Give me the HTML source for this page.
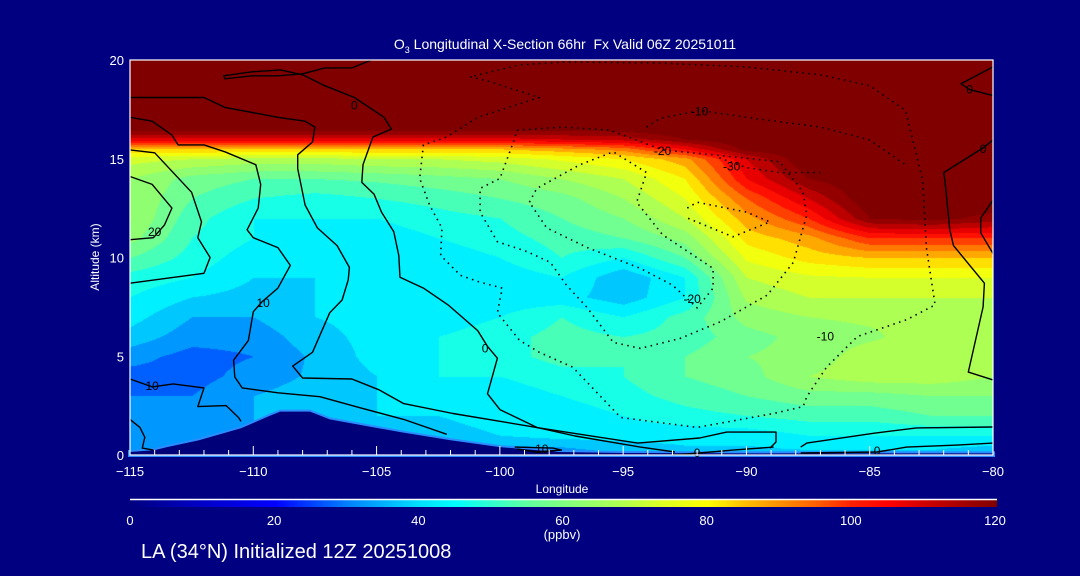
<!DOCTYPE html>
<html><head><meta charset="utf-8">
<style>
html,body{margin:0;padding:0;background:#000080;}
#wrap{position:relative;width:1080px;height:576px;background:#000080;overflow:hidden;font-family:"Liberation Sans",sans-serif;color:#fff;}
canvas{position:absolute;}
svg{position:absolute;left:0;top:0;}
.t{position:absolute;white-space:nowrap;color:#fff;}
</style></head>
<body>
<div id="wrap">
<canvas id="field" width="863" height="395" style="left:130px;top:60px"></canvas>
<canvas id="cbar" width="867" height="7" style="left:130px;top:500px"></canvas>
<svg id="ov" width="1080" height="576"></svg>
<div class="t" style="left:0;width:1130px;text-align:center;top:36px;font-size:14px;">O<sub style="font-size:9px">3</sub> Longitudinal X-Section 66hr&nbsp; Fx Valid 06Z 20251011</div>
<div class="t" style="left:45px;top:250px;font-size:12px;transform:rotate(-90deg);width:100px;text-align:center;">Altitude (km)</div>
<div class="t" style="left:512px;width:100px;text-align:center;top:482px;font-size:12px;">Longitude</div>
<div class="t" style="left:512px;width:100px;text-align:center;top:527px;font-size:13px;">(ppbv)</div>
<div class="t" style="left:141px;top:541px;font-size:20px;">LA (34°N) Initialized 12Z 20251008</div>
</div>
<script>
const lons = [-115,-112.5,-110,-107.5,-105,-102.5,-100,-97.5,-95,-92.5,-90,-87.5,-85,-82.5,-80];
const alts = [0,1,2,3,4,5,6,7,8,9,10,11,12,13,14,15,15.5,16,16.5,17,20];
const o3r0  = [30,30,30,30,30,30,30,30,35,38,38,38,38,38,35];
const o3r1  = [35,35,35,35,36,38,40,42,42,42,42,45,45,45,45];
const o3r2  = [32,33,35,38,40,40,42,42,45,48,50,52,52,55,55];
const o3r3  = [30,30,35,38,40,42,42,45,48,52,55,58,58,60,60];
const o3r4  = [28,28,32,36,40,45,45,48,50,55,58,65,68,68,65];
const o3r5  = [32,28,30,36,42,45,48,52,50,55,60,62,68,68,68];
const o3r6  = [38,32,32,38,42,45,48,52,50,52,58,62,64,68,68];
const o3r7  = [42,35,35,40,42,42,45,50,45,52,62,65,66,66,66];
const o3r8  = [45,40,38,40,40,42,42,42,37,45,66,70,70,70,70];
const o3r9  = [48,45,40,40,40,42,42,45,36,45,70,74,75,75,75];
const o3r10 = [55,48,42,40,40,42,45,50,45,55,76,82,85,85,85];
const o3r11 = [62,50,45,42,42,45,48,52,55,62,82,88,100,100,100];
const o3r12 = [65,52,45,45,45,48,50,55,60,70,88,100,120,122,118];
const o3r13 = [65,55,50,48,50,52,55,58,65,75,95,110,125,125,125];
const o3r14 = [65,58,55,55,56,58,60,65,70,80,105,120,125,125,125];
const o3r15 = [72,70,68,68,70,70,72,76,80,88,110,125,125,125,125];
const o3r155= [85,85,85,85,85,85,85,88,92,105,122,125,125,125,125];
const o3r16 = [108,108,108,108,108,108,108,110,112,120,125,125,125,125,125];
const o3r165= [122,122,122,122,122,122,122,122,122,125,125,125,125,125,125];
const o3r17 = [125,125,125,125,125,125,125,125,125,125,125,125,125,125,125];
const o3r20 = [125,125,125,125,125,125,125,125,125,125,125,125,125,125,125];
const o3rows = [o3r0,o3r1,o3r2,o3r3,o3r4,o3r5,o3r6,o3r7,o3r8,o3r9,o3r10,o3r11,o3r12,o3r13,o3r14,o3r15,o3r155,o3r16,o3r165,o3r17,o3r20];

const terrainLon = [-115,-114,-113.5,-112.2,-110.5,-109.3,-108.9,-107.7,-106.9,-104,-102,-100,-97.6,-95,-90,-85,-80];
const terrainAlt = [0.15,0.25,0.4,0.75,1.35,2.0,2.2,2.2,1.8,1.15,0.75,0.4,0.15,0.1,0.08,0.08,0.08];

const xTicks = [-115,-110,-105,-100,-95,-90,-85,-80];
const yTicks = [0,5,10,15,20];
const cbTicks = [0,20,40,60,80,100,120];

const solidContours = [
 [[-115,18.1],[-112,18.1],[-111.15,17.6],[-109,17.1],[-107.9,16.9],[-107.5,16.6],[-107.6,15.85],[-108.2,15.2],[-108.2,14.5],[-107.9,12.66],[-107.4,11.5],[-106.6,10.6],[-106.1,9.5],[-106.15,8.86],[-106.4,7.85],[-106.9,7.2],[-107.6,5.2],[-108.4,4.5],[-108,3.9],[-106,3.85],[-104.9,3.3],[-103.9,2.6],[-101.9,2.1],[-98.4,1.37],[-97,1.1],[-94.4,0.6],[-91.9,0.86],[-90.8,1.16],[-88.8,1.16],[-88.8,0.66],[-89.05,0.35]],
 [[-105.2,20],[-106,19.6],[-107.1,19.6],[-108,19.3],[-109,19.2],[-110.05,19.2],[-111.15,19.05],[-111.2,19.2],[-110.1,19.4],[-108.9,19.5],[-108,19.25],[-107.1,18.7],[-105.9,18.1],[-104.7,17.1],[-104.4,16.5],[-105.15,16.1],[-105.55,14.7],[-105.6,13.8],[-105.1,13.2],[-104.8,12.3],[-104.3,11.3],[-104.1,10.1],[-104.05,9],[-103.1,8.45],[-102.1,7.6],[-100.9,6.3],[-100.5,5.5],[-100.1,4.9],[-100.5,3.1],[-100,2.3],[-98.5,1.4],[-96.95,0.96],[-94.3,0.4],[-92.9,0.15]],
 [[-115,15.45],[-114,15.3],[-112.5,13.3],[-112.1,11.8],[-112.25,11],[-111.75,10],[-112,9.2],[-115,8.7]],
 [[-115,14.1],[-114.1,13.7],[-113.3,12.5],[-113.6,11.65],[-114.05,11],[-115,10.9]],
 [[-115,17.1],[-114.1,16.9],[-113.3,16.2],[-113.05,15.7],[-112,15.7],[-111.15,15.35],[-109.9,14.7],[-109.7,13.7],[-109.8,12.5],[-110.25,11.4],[-110,11],[-109,10.5],[-108.5,9.6],[-109,8.45],[-109.65,7.75],[-110,7.25],[-110.2,5.8],[-110.8,4.8],[-110.75,3.95],[-110.45,3.4],[-109,3.15],[-107.3,2.95],[-105.7,2.4],[-103.9,1.8],[-102.15,1.05]],
 [[-115,3.85],[-114.1,3.45],[-113.25,3.6],[-112,3.4],[-112.25,2.45],[-111.1,2.5],[-110.6,1.9],[-110.5,1.7]],
 [[-115,1.8],[-114.6,1.4],[-114.4,0.9],[-114.5,0.35],[-114.05,0.25]],
 [[-80,19.65],[-81.3,18.8],[-80.95,18.5],[-80,18.2]],
 [[-80,15.95],[-80.4,15.55],[-82,14.3],[-81.95,13.9],[-81.75,11.4],[-81.6,10.6],[-80.35,8.7],[-80.4,7.5],[-81,4.2],[-80,3.8]],
 [[-80,12.9],[-80.5,12],[-80.5,11.25],[-80,10.2]],
 [[-87.8,0.4],[-87.55,0.6],[-84.85,1.1],[-83.1,1.37],[-80,1.42]],
 [[-87.8,0.1],[-84.7,0.15],[-83.5,0.4],[-81.45,0.5],[-80,0.6]],
 [[-93,0.0],[-91.9,0.1],[-90.55,0.25],[-88.9,0.4]],
 [[-99.4,0.4],[-97.85,0.35],[-97.5,0.25],[-98.5,0.15],[-99.3,0.3]]
];
const dottedContours = [
 [[-101.2,19.15],[-100.4,18.9],[-98.4,18.1],[-100.9,17.1],[-102.15,16.1],[-103.1,15.7],[-103.25,14],[-102.85,12.65],[-102.35,11.5],[-102.4,10.1],[-101.6,9.1],[-100.8,8.75],[-99.9,8.45],[-100.1,7.2],[-99.2,5.8],[-98.4,5.2],[-97.05,4.45],[-95.1,1.9],[-92,1.4],[-88.9,2.1],[-87.7,2.45],[-87.55,2.95],[-86.75,4.45],[-85.5,6],[-83.5,6.85],[-82.35,7.6],[-82.7,10.5],[-82.85,13.9],[-83.55,17.45],[-85,18.7],[-87,19.25],[-90,19.65],[-93.6,19.85],[-97.3,19.9],[-99.2,19.75],[-101.2,19.15]],
 [[-99.3,16.45],[-97.45,16.6],[-95.55,16.45],[-93.4,15.45],[-91.35,15.2],[-88.65,14.85],[-87.7,13.3],[-87.55,12.15],[-88.1,9.75],[-89.15,8.1],[-91.05,6.75],[-92.7,5.9],[-94.3,5.4],[-95.4,5.7],[-96.45,7.45],[-97.3,8.6],[-97.95,9.75],[-98.9,10.3],[-100.1,10.8],[-100.8,12.3],[-100.8,13.5],[-100,14],[-99.45,15.85],[-99.3,16.45]],
 [[-98.8,12.8],[-98.5,13.5],[-96.75,14.7],[-95.4,15.35],[-94.05,14.3],[-94.45,12.8],[-93.4,11.15],[-91.35,9.45],[-91.35,8.45],[-92,7.45],[-93,8.6],[-94.3,9.45],[-96.45,10.5],[-98.1,11.5],[-98.8,12.8]],
 [[-92.4,12.5],[-92,12.8],[-90,12.3],[-89.05,11.8],[-90.55,11.05],[-92.4,12]],
 [[-94.05,16.6],[-93.5,17.05],[-91.9,17.45],[-90,17.1],[-87,16.6],[-85,15.95],[-83.55,14.7]],
 [[-91.1,15.05],[-90,14.55],[-88.65,14.3],[-87,14.3]]
];
const labelText = ["0","0","20","10","10","-10","-20","-30","-20","-10","0","0","10","0","0"];
const labelLon = [-105.9,-100.6,-114,-109.6,-114.1,-91.9,-93.4,-90.6,-92.2,-86.8,-80.95,-80.4,-98.3,-92.0,-84.7];
const labelAlt = [17.7,5.4,11.3,7.7,3.5,17.4,15.4,14.6,7.9,6.0,18.5,15.5,0.3,0.1,0.2];

const X0=130, X1=993, Y0=455, Y1=60;
function xs(lon){return X0+(lon+115)/35*(X1-X0);}
function ys(a){return Y0-a/20*(Y0-Y1);}

const stops=[[0,[0,0,128]],[10,[0,0,200]],[20,[0,0,255]],[30,[0,128,255]],[35,[0,176,255]],[40,[0,224,255]],[45,[0,255,255]],[50,[48,255,208]],[55,[96,255,160]],[60,[128,255,128]],[68,[176,255,80]],[74,[224,255,32]],[80,[255,255,0]],[85,[255,192,0]],[90,[255,144,0]],[95,[255,96,0]],[100,[255,32,0]],[105,[255,0,0]],[110,[208,0,0]],[120,[128,0,0]]];
function cmap(v){
 if(v<=0)return stops[0][1]; if(v>=120)return stops[stops.length-1][1];
 for(let i=1;i<stops.length;i++){ if(v<=stops[i][0]){const a=stops[i-1],b=stops[i];const t=(v-a[0])/(b[0]-a[0]);return [0,1,2].map(k=>Math.round(a[1][k]+(b[1][k]-a[1][k])*t));}}
}
function sample(lon,a){
 let i=Math.min(lons.length-2,Math.max(0,Math.floor((lon-lons[0])/(lons[1]-lons[0]))));
 let tx=(lon-lons[i])/(lons[i+1]-lons[i]); tx=Math.max(0,Math.min(1,tx));
 let j=0; while(j<alts.length-2 && a>alts[j+1]) j++;
 let ty=(a-alts[j])/(alts[j+1]-alts[j]); ty=Math.max(0,Math.min(1,ty));
 const r0=o3rows[j],r1=o3rows[j+1];
 const v0=r0[i]*(1-tx)+r0[i+1]*tx, v1=r1[i]*(1-tx)+r1[i+1]*tx;
 return v0*(1-ty)+v1*ty;
}
(function(){
 const c=document.getElementById('field'),g=c.getContext('2d');
 const W=c.width,H=c.height,img=g.createImageData(W,H);
 for(let py=0;py<H;py++){const a=(Y0-(Y1+py))/(Y0-Y1)*20;
  for(let px=0;px<W;px++){const lon=-115+(px)/(X1-X0)*35;
   let v=sample(lon,a); v=Math.min(120,Math.floor(v/5)*5+2.5);
   const col=cmap(v),k=(py*W+px)*4;img.data[k]=col[0];img.data[k+1]=col[1];img.data[k+2]=col[2];img.data[k+3]=255;}}
 g.putImageData(img,0,0);
 const cb=document.getElementById('cbar'),cg=cb.getContext('2d');
 for(let px=0;px<cb.width;px++){const col=cmap(px/(cb.width-1)*120);cg.fillStyle='rgb('+col.join(',')+')';cg.fillRect(px,0,1,7);}
})();
const NS='http://www.w3.org/2000/svg';
const svg=document.getElementById('ov');
function mk(tag,attrs){const e=document.createElementNS(NS,tag);for(const k in attrs)e.setAttribute(k,attrs[k]);svg.appendChild(e);return e;}
let tp='M'+xs(-115)+','+ys(0);
terrainLon.forEach((l,i)=>{tp+=' L'+xs(l).toFixed(1)+','+ys(terrainAlt[i]).toFixed(1);});
tp+=' L'+xs(-80)+','+ys(0)+' Z';
const tf=mk('path',{d:tp,fill:'#000078',stroke:'#2a8cff','stroke-width':4});


const tf2=mk('path',{d:tp,fill:'#000078',stroke:'none'});


function lineFor(pts,dotted,name){
 const d=pts.map((p,i)=>(i?'L':'M')+xs(p[0]).toFixed(1)+','+ys(p[1]).toFixed(1)).join(' ');
 const a={d:d,fill:'none',stroke:'#000','stroke-width':dotted?1.6:1.4,'stroke-linejoin':'round'};
 if(dotted){a['stroke-dasharray']='1.5 4.5';}
 const e=mk('path',a);
 
 
}
solidContours.forEach((c,i)=>lineFor(c,false,'contour-solid-'+i));
dottedContours.forEach((c,i)=>lineFor(c,true,'contour-dotted-'+i));
labelText.forEach((t,i)=>{
 const e=mk('text',{x:xs(labelLon[i]),y:ys(labelAlt[i])+4,'font-size':12,'text-anchor':'middle',fill:'#000','font-family':'Liberation Sans, sans-serif'});
 e.textContent=t;
 
 
});
const fr=mk('rect',{x:X0,y:Y1,width:X1-X0,height:Y0-Y1,fill:'none',stroke:'#fff','stroke-width':1.2});


for(let l=-115;l<=-80;l++){
 const major=(l%5===0);
 const e=mk('line',{x1:xs(l),x2:xs(l),y1:Y0,y2:Y0-(major?9:5),stroke:'#fff','stroke-width':1});
 
 
}
xTicks.forEach(l=>{
 const e=mk('text',{x:xs(l),y:476,'font-size':13,'text-anchor':'middle',fill:'#fff','font-family':'Liberation Sans, sans-serif'});
 e.textContent='\u2212'+Math.abs(l);
 
 
});
yTicks.forEach(a=>{
 const e=mk('text',{x:124,y:ys(a)+5,'font-size':13,'text-anchor':'end',fill:'#fff','font-family':'Liberation Sans, sans-serif'});
 e.textContent=a;
 
 
});
const cbl=mk('line',{x1:130,x2:997,y1:499.5,y2:499.5,stroke:'#fff','stroke-width':1.5});


cbTicks.forEach(v=>{
 const e=mk('text',{x:130+v/120*865,y:525,'font-size':13,'text-anchor':'middle',fill:'#fff','font-family':'Liberation Sans, sans-serif'});
 e.textContent=v;
 
 
});
</script>
</body></html>
